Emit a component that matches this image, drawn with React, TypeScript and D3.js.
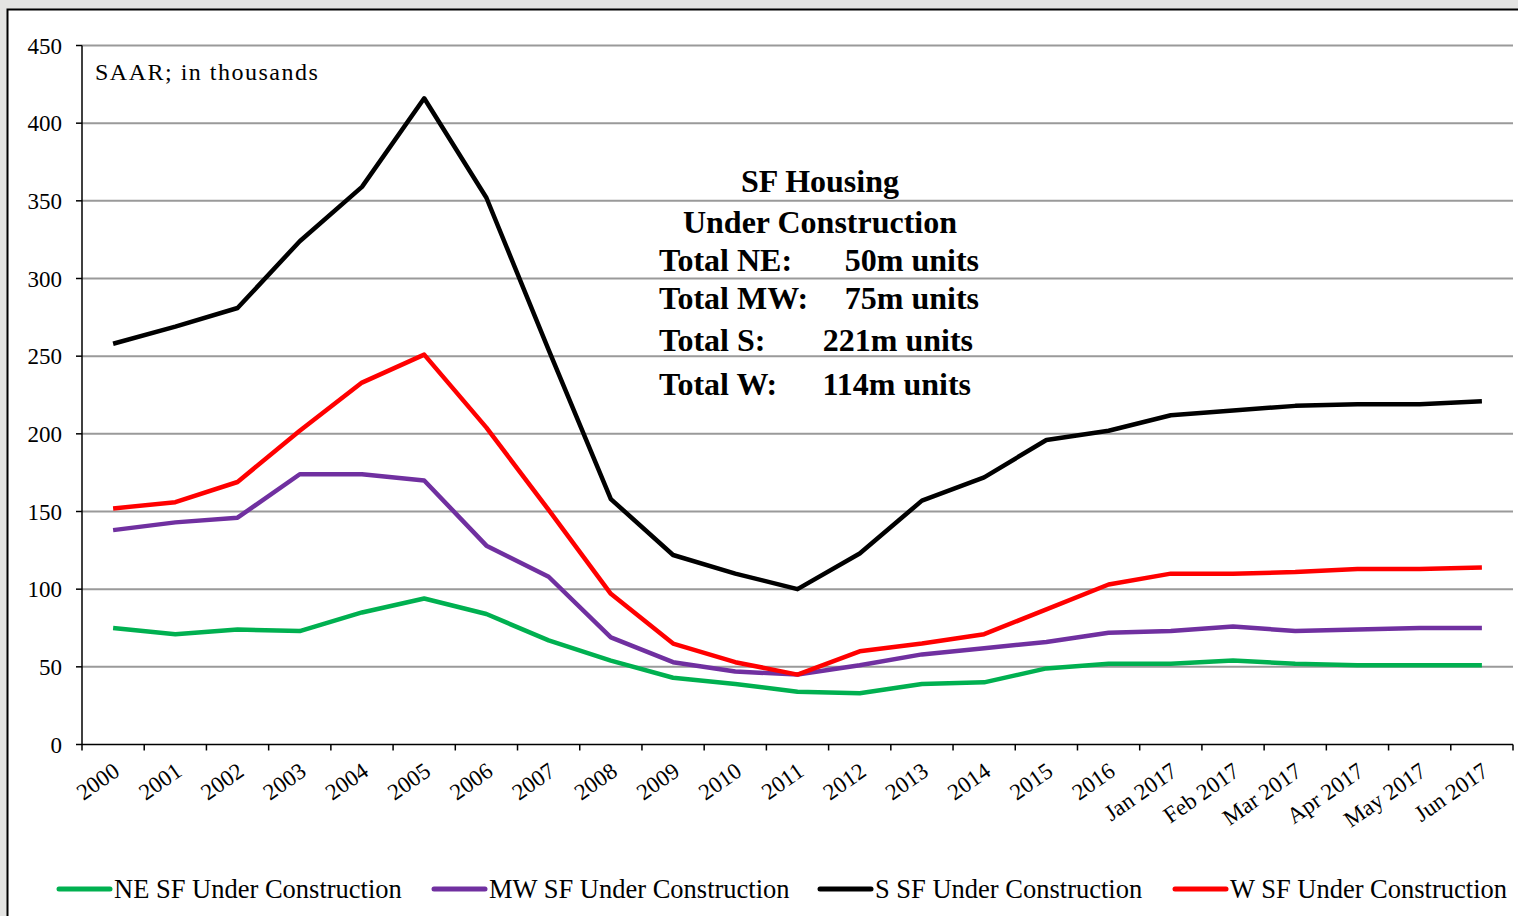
import React from "react";
import * as d3 from "d3";

const categories = ["2000","2001","2002","2003","2004","2005","2006","2007","2008","2009","2010","2011","2012","2013","2014","2015","2016","Jan 2017","Feb 2017","Mar 2017","Apr 2017","May 2017","Jun 2017"];
const neValues = [75,71,74,73,85,94,84,67,54,43,39,34,33,39,40,49,52,52,54,52,51,51,51];
const mwValues = [138,143,146,174,174,170,128,108,69,53,47,45,51,58,62,66,72,73,76,73,74,75,75];
const sValues = [258,269,281,324,359,416,352,254,158,122,110,100,123,157,172,196,202,212,215,218,219,219,221];
const wValues = [152,156,169,202,233,251,204,151,97,65,53,45,60,65,71,87,103,110,110,111,113,113,114];
const yTicks = [0,50,100,150,200,250,300,350,400,450];

const series = [
  { name: "NE SF Under Construction", values: neValues, color: "#00B050", lx: 57 },
  { name: "MW SF Under Construction", values: mwValues, color: "#7030A0", lx: 432 },
  { name: "S SF Under Construction", values: sValues, color: "#000000", lx: 818 },
  { name: "W SF Under Construction", values: wValues, color: "#FF0000", lx: 1173 },
];

const W = 1518, H = 916;
const left = 82, right = 1513, top = 45.5, bottom = 744.5;
const font = "'Liberation Serif', 'Times New Roman', serif";

export default function App() {
  const x = d3.scaleBand<string>().domain(categories).range([left, right]).padding(0);
  const y = d3.scaleLinear().domain([0, 450]).range([bottom, top]);
  const cx = (c: string) => (x(c) as number) + x.bandwidth() / 2;
  const line = d3.line<number>().x((_, i) => cx(categories[i])).y((v) => y(v));
  const boundaries = categories.map((c) => x(c) as number).concat([right]);

  return (
    <svg width={W} height={H} style={{ position: "fixed", left: 0, top: 0 }} fontFamily={font}>
      <rect x={0} y={0} width={W} height={H} fill="#e4e4e2" />
      <rect x={7.5} y={9.5} width={W} height={H} fill="#ffffff" stroke="#000" strokeWidth={2} />
      {yTicks.filter((t) => t > 0).map((t) => (
        <line key={t} x1={left} x2={right} y1={y(t)} y2={y(t)} stroke="#9a9a9a" strokeWidth={2} />
      ))}
      {yTicks.map((t) => (
        <g key={"yt" + t}>
          <line x1={left - 6} x2={left} y1={y(t)} y2={y(t)} stroke="#000" strokeWidth={1.5} />
          <text x={62} y={y(t)} dy="0.35em" textAnchor="end" fontSize={23} fill="#000">{t}</text>
        </g>
      ))}
      <line x1={left} x2={left} y1={top} y2={bottom} stroke="#000" strokeWidth={1.5} />
      <line x1={left} x2={right} y1={bottom} y2={bottom} stroke="#000" strokeWidth={1.5} />
      {boundaries.map((b, i) => (
        <line key={"xt" + i} x1={b} x2={b} y1={bottom} y2={bottom + 6} stroke="#000" strokeWidth={1.5} />
      ))}
      {categories.map((c) => (
        <text key={"xl" + c} transform={`translate(${cx(c) + 8},${bottom + 30}) rotate(-35)`} textAnchor="end" fontSize={23} fill="#000">{c}</text>
      ))}
      {series.map((s) => (
        <path key={s.name} d={line(s.values) as string} fill="none" stroke={s.color} strokeWidth={4.5} strokeLinejoin="round" />
      ))}
      <text x={95} y={80} fontSize={24} letterSpacing={1.5} fill="#000">SAAR; in thousands</text>
      <g fontWeight="bold" fontSize={32} fill="#000">
        <text x={820} y={192} textAnchor="middle">SF Housing</text>
        <text x={820} y={233} textAnchor="middle">Under Construction</text>
        <text x={659} y={271}>Total NE:</text>
        <text x={979} y={271} textAnchor="end">50m units</text>
        <text x={659} y={309}>Total MW:</text>
        <text x={979} y={309} textAnchor="end">75m units</text>
        <text x={659} y={351}>Total S:</text>
        <text x={973} y={351} textAnchor="end">221m units</text>
        <text x={659} y={395}>Total W:</text>
        <text x={971} y={395} textAnchor="end">114m units</text>
      </g>
      {series.map((s) => (
        <g key={"lg" + s.name}>
          <line x1={s.lx + 2} x2={s.lx + 53} y1={889} y2={889} stroke={s.color} strokeWidth={5} strokeLinecap="round" />
          <text x={s.lx + 57} y={889} dy="0.35em" fontSize={26.5} fill="#000">{s.name}</text>
        </g>
      ))}
    </svg>
  );
}
